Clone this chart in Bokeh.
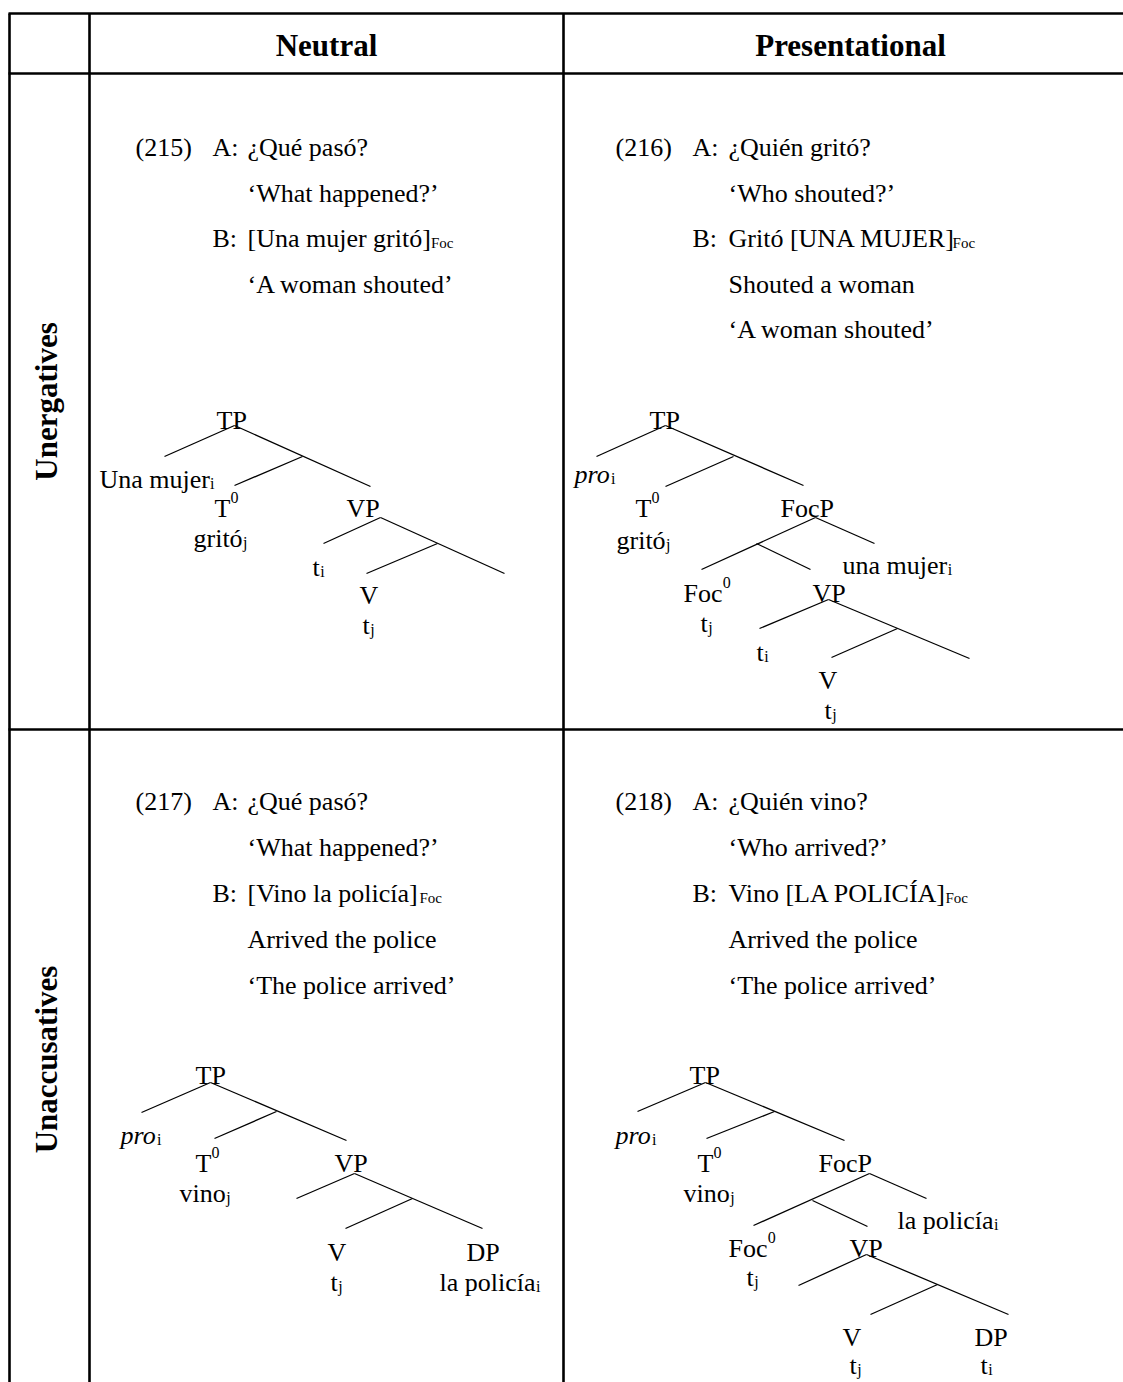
import re
import math
from bokeh.plotting import figure
from bokeh.models import Range1d
from bokeh.core.properties import value
from bokeh.embed import file_html
from bokeh.resources import INLINE

# ---------------------------------------------------------------- DATA ----
column_headers = ["Neutral", "Presentational"]
row_headers = ["Unergatives", "Unaccusatives"]
example_numbers = ["(215)", "(216)", "(217)", "(218)"]
speaker_tags = ["A:", "B:"]
speaker_line_index = [0, 2]

lines_215 = ["¿Qué pasó?", "‘What happened?’", "[Una mujer gritó]_{Foc}",
             "‘A woman shouted’"]
lines_216 = ["¿Quién gritó?", "‘Who shouted?’", "Gritó [UNA MUJER]_{Foc}",
             "Shouted a woman", "‘A woman shouted’"]
lines_217 = ["¿Qué pasó?", "‘What happened?’", "[Vino la policía]_{Foc}",
             "Arrived the police", "‘The police arrived’"]
lines_218 = ["¿Quién vino?", "‘Who arrived?’", "Vino [LA POLICÍA]_{Foc}",
             "Arrived the police", "‘The police arrived’"]

tree_215 = ["TP", "Una mujer_{i}", "T^{0}", "gritó_{j}", "VP", "t_{i}", "V", "t_{j}"]
tree_216 = ["TP", "*pro*_{i}", "T^{0}", "gritó_{j}", "FocP", "una mujer_{i}",
            "Foc^{0}", "VP", "t_{j}", "t_{i}", "V", "t_{j}"]
tree_217 = ["TP", "*pro*_{i}", "T^{0}", "vino_{j}", "VP", "V", "t_{j}", "DP",
            "la policía_{i}"]
tree_218 = ["TP", "*pro*_{i}", "T^{0}", "vino_{j}", "FocP", "la policía_{i}",
            "Foc^{0}", "VP", "t_{j}", "V", "DP", "t_{j}", "t_{i}"]

# -------------------------------------------------------------- LAYOUT ----
# data coordinates are screenshot pixels (figure sits at the page's top-left)
W, H = 1123, 1382
X0, Y0 = 0, 0
FONT = "Liberation Serif"
BODY, SMALL, HEAD = 26, 15, 31

table_h = [(13, 8, 1123), (73, 8, 1123), (729, 8, 1123)]
table_v = [(9, 13, 1382), (89, 13, 1382), (563, 13, 1382)]
header_pos = [(326, 45), (850, 45)]
row_label_pos = [(46, 401), (46, 1059)]

ex_num_x = [135, 615, 135, 615]
ex_tag_x = [212, 692, 212, 692]
ex_body_x = [247, 728, 247, 728]
ex_top = [147, 147, 801, 801]
ex_step = [45.5, 45.5, 46, 46]

tree_215_pos = [(216, 420), (99, 479), (214, 508), (193, 538), (346, 508),
                (312, 567), (359, 595), (362, 625)]
tree_215_edges = [((234, 425), (164, 456)), ((234, 425), (370, 486)),
                  ((302, 456), (234, 485)), ((380, 517), (323, 543)),
                  ((380, 517), (504, 573)), ((437, 543), (366, 573))]
tree_216_pos = [(649, 420), (574, 474), (635, 508), (616, 540), (780, 508),
                (842, 565), (683, 593), (812, 593), (700, 623), (756, 652),
                (818, 680), (824, 710)]
tree_216_edges = [((665, 425), (596, 456)), ((665, 425), (803, 485)),
                  ((733, 456), (665, 486)), ((815, 517), (701, 569)),
                  ((815, 517), (874, 543)), ((756, 543), (810, 569)),
                  ((828, 599), (759, 628)), ((828, 599), (969, 658)),
                  ((897, 628), (831, 657))]
tree_217_pos = [(195, 1075), (120, 1135), (195, 1163), (179, 1193), (334, 1163),
                (327, 1252), (330, 1282), (466, 1252), (439, 1282)]
tree_217_edges = [((210, 1082), (141, 1112)), ((210, 1082), (346, 1140)),
                  ((276, 1111), (214, 1138)), ((354, 1173), (296, 1198)),
                  ((354, 1173), (482, 1228)), ((412, 1198), (345, 1228))]
tree_218_pos = [(689, 1075), (615, 1135), (697, 1163), (683, 1193), (818, 1163),
                (897, 1220), (728, 1248), (849, 1248), (746, 1277), (842, 1337),
                (974, 1337), (849, 1365), (980, 1365)]
tree_218_edges = [((705, 1082), (637, 1111)), ((705, 1082), (844, 1140)),
                  ((774, 1111), (706, 1138)), ((869, 1173), (753, 1225)),
                  ((869, 1173), (926, 1198)), ((812, 1200), (867, 1226)),
                  ((866, 1254), (798, 1285)), ((866, 1254), (1008, 1314)),
                  ((937, 1284), (870, 1314))]

# Times / Liberation Serif advance widths (1/1000 em)
ROMAN = {' ': 250, '(': 333, ')': 333, ':': 278, '?': 444, '[': 333, ']': 333,
         '‘': 333, '’': 333, '¿': 444, 'A': 722, 'C': 667, 'D': 722, 'E': 611,
         'F': 556, 'G': 722, 'I': 333, 'Í': 333, 'J': 389, 'L': 611, 'M': 889,
         'N': 722, 'O': 722, 'P': 556, 'Q': 722, 'R': 667, 'S': 556, 'T': 611,
         'U': 722, 'V': 722, 'W': 944, 'a': 444, 'c': 444, 'd': 500, 'e': 444,
         'é': 444, 'g': 500, 'h': 500, 'i': 278, 'í': 278, 'j': 278, 'l': 278,
         'm': 778, 'n': 500, 'o': 500, 'ó': 500, 'p': 500, 'r': 333, 's': 389,
         't': 278, 'u': 500, 'v': 500, 'w': 722}
ITALIC = {'p': 500, 'r': 389, 'o': 500}
CAPS_FIT = 0.98   # allowance for kerning between capitals


def text_width(s, size, table=ROMAN):
    total = 0.0
    for c in s:
        w = table.get(c, 500)
        total += w * CAPS_FIT if c.isupper() else w
    return total * size / 1000.0


groups = {}


def add(style, size, x, y, t, align="left", angle=0.0):
    g = groups.setdefault((style, size, align, angle), {"x": [], "y": [], "text": []})
    g["x"].append(x)
    g["y"].append(y)
    g["text"].append(t)


def rich(x, y, markup, size=BODY, small=SMALL):
    cx = x
    for part in re.split(r'(_\{[^}]*\}|\^\{[^}]*\}|\*[^*]*\*)', markup):
        if not part:
            continue
        if part.startswith('_{'):
            t = part[2:-1]
            add("normal", small, cx + 0.5, y + 4, t)
            cx += text_width(t, small) + 0.5
        elif part.startswith('^{'):
            t = part[2:-1]
            add("normal", small, cx + 0.5, y - 11, t)
            cx += text_width(t, small) + 0.5
        elif part.startswith('*'):
            t = part[1:-1]
            add("italic", size, cx, y, t)
            cx += text_width(t, size, ITALIC)
        else:
            add("normal", size, cx, y, part)
            cx += text_width(part, size)


p = figure(width=W, height=H, x_range=Range1d(X0, X0 + W),
           y_range=Range1d(Y0 + H, Y0), output_backend="svg",
           toolbar_location=None, min_border=0, x_axis_type=None,
           y_axis_type=None)
p.outline_line_color = None
p.background_fill_color = "white"
p.border_fill_color = "white"

# table rules
p.segment(x0=[a for _, a, _ in table_h], y0=[y for y, _, _ in table_h],
          x1=[b for _, _, b in table_h], y1=[y for y, _, _ in table_h],
          line_color="black", line_width=2.6)
p.segment(x0=[x for x, _, _ in table_v], y0=[a for _, a, _ in table_v],
          x1=[x for x, _, _ in table_v], y1=[b for _, _, b in table_v],
          line_color="black", line_width=2.6)

# headers
for label, (hx, hy) in zip(column_headers, header_pos):
    add("bold", HEAD, hx, hy, label, align="center")
for label, (rx, ry) in zip(row_headers, row_label_pos):
    add("bold", HEAD, rx, ry, label, align="center", angle=math.pi / 2)

# examples
for k, lines in enumerate([lines_215, lines_216, lines_217, lines_218]):
    add("normal", BODY, ex_num_x[k], ex_top[k], example_numbers[k])
    for tag, li in zip(speaker_tags, speaker_line_index):
        add("normal", BODY, ex_tag_x[k], ex_top[k] + li * ex_step[k], tag)
    for i, line in enumerate(lines):
        rich(ex_body_x[k], ex_top[k] + i * ex_step[k], line)

# trees
for labels, pos, edges in [(tree_215, tree_215_pos, tree_215_edges),
                           (tree_216, tree_216_pos, tree_216_edges),
                           (tree_217, tree_217_pos, tree_217_edges),
                           (tree_218, tree_218_pos, tree_218_edges)]:
    for lab, (lx, ly) in zip(labels, pos):
        rich(lx, ly, lab, BODY, 16)
    p.segment(x0=[e[0][0] for e in edges], y0=[e[0][1] for e in edges],
              x1=[e[1][0] for e in edges], y1=[e[1][1] for e in edges],
              line_color="black", line_width=1.3)

for (style, size, align, angle), g in groups.items():
    p.text(x=g["x"], y=g["y"], text=g["text"], angle=angle,
           text_font=value(FONT), text_font_size=value(f"{size}px"),
           text_font_style=style, text_align=align,
           text_baseline="alphabetic", text_color="black")

open("out.html", "w").write(file_html(p, INLINE))
